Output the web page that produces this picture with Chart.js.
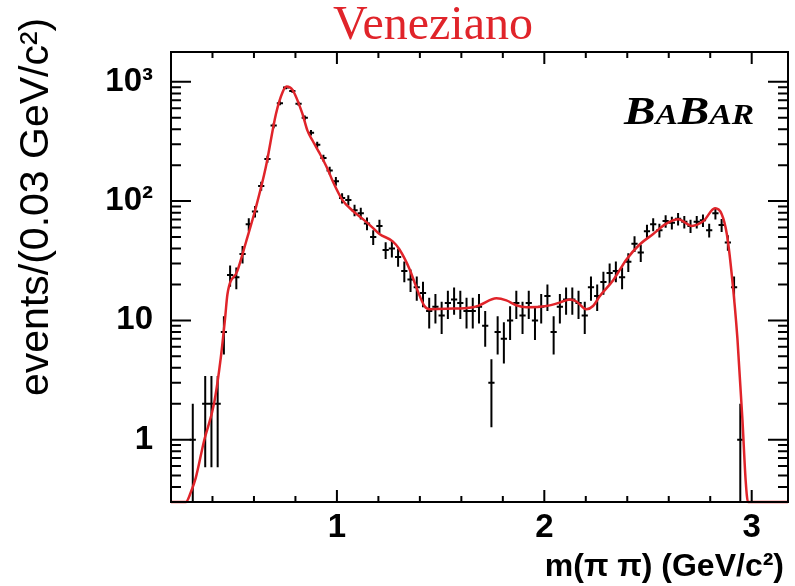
<!DOCTYPE html>
<html>
<head>
<meta charset="utf-8">
<script src="https://cdn.jsdelivr.net/npm/chart.js@4.4.1/dist/chart.umd.min.js"></script>
<style>
  html, body { margin: 0; padding: 0; background: #fff; }
  #wrap { width: 795px; height: 586px; }
</style>
</head>
<body>
<div id="wrap"><canvas id="massChart"></canvas></div>
<script>
// bin centres of m(pi pi) in GeV/c^2 (0.03 wide bins) and events in each bin
const binCenters = [0.305, 0.365, 0.395, 0.425, 0.455, 0.485, 0.515, 0.545, 0.575, 0.605,
  0.635, 0.665, 0.695, 0.725, 0.755, 0.785, 0.815, 0.845, 0.875, 0.905,
  0.935, 0.965, 0.995, 1.025, 1.055, 1.085, 1.115, 1.145, 1.175, 1.205,
  1.235, 1.265, 1.295, 1.325, 1.355, 1.385, 1.415, 1.445, 1.475, 1.505,
  1.535, 1.565, 1.595, 1.625, 1.655, 1.685, 1.715, 1.745, 1.775, 1.805,
  1.835, 1.865, 1.895, 1.925, 1.955, 1.985, 2.015, 2.045, 2.075, 2.105,
  2.135, 2.165, 2.195, 2.225, 2.255, 2.285, 2.315, 2.345, 2.375, 2.405,
  2.435, 2.465, 2.495, 2.525, 2.555, 2.585, 2.615, 2.645, 2.675, 2.705,
  2.735, 2.765, 2.795, 2.825, 2.855, 2.885, 2.915, 2.945];
const binCounts = [1, 2, 2, 2, 8, 24, 23, 36, 64, 82,
  134, 225, 430, 661, 895, 840, 655, 500, 375, 297,
  230, 181, 147, 106, 102, 84, 79, 65, 50, 62,
  39, 40, 34, 26, 22, 19, 17, 12, 13, 11,
  14, 15, 14, 12, 12, 13, 9, 3, 8, 7,
  10, 14, 11, 14, 10, 13, 16, 8, 13, 15,
  15, 14, 11, 19, 16, 21, 25, 26, 23, 31,
  44, 37, 56, 64, 57, 68, 66, 71, 67, 62,
  67, 69, 57, 79, 63, 45, 19, 1];

// Veneziano fit curve
const curveMass = [0.2, 0.272, 0.295, 0.319, 0.359, 0.408, 0.44, 0.461, 0.472, 0.52,
  0.561, 0.609, 0.657, 0.706, 0.738, 0.757, 0.786, 0.834, 0.858, 0.883,
  0.915, 0.955, 0.979, 1.025, 1.076, 1.12, 1.172, 1.205, 1.269, 1.301,
  1.35, 1.39, 1.422, 1.446, 1.527, 1.656, 1.688, 1.769, 1.817, 1.865,
  1.914, 2.01, 2.074, 2.123, 2.155, 2.203, 2.235, 2.268, 2.332, 2.397,
  2.461, 2.525, 2.59, 2.646, 2.711, 2.767, 2.823, 2.855, 2.88, 2.904,
  2.931, 2.955, 2.971, 2.982, 3.175];
const curveEvents = [0.3, 0.3, 0.36, 0.475, 0.97, 2.03, 4.85, 10.5, 16.5, 26,
  45, 88, 192, 538, 818, 913, 857, 538, 390, 321,
  255, 186, 148, 103, 83, 72, 60, 53, 46, 39.5,
  27, 17.6, 13.2, 12.4, 12.5, 12.9, 13.4, 15.3, 14.7, 13.4,
  12.9, 13.2, 14.1, 15, 14.4, 12.4, 13.2, 16, 21.7, 32.6,
  43.5, 53, 65, 70.6, 62, 68, 87, 78, 53, 24,
  7.1, 1.5, 0.45, 0.3, 0.3];

const xTickValues = [0.4, 0.6, 0.8, 1, 1.2, 1.4, 1.6, 1.8, 2, 2.2, 2.4, 2.6, 2.8, 3];
const xMajorTicks = [1, 2, 3];
const xMajorLabels = ['1', '2', '3'];
const yTickValues = [0.4, 0.5, 0.6, 0.7, 0.8, 0.9, 1, 2, 3, 4, 5, 6, 7, 8, 9,
  10, 20, 30, 40, 50, 60, 70, 80, 90, 100, 200, 300, 400, 500, 600, 700, 800, 900, 1000];
const yMajorTicks = [1, 10, 100, 1000];
const yMajorLabels = ['1', '10', '10\u00b2', '10\u00b3'];

const halfBin = 0.015;
var vertBars = [];
var horizBars = [];
for (var i = 0; i < binCenters.length; i++) {
  var n = binCounts[i];
  var err = Math.sqrt(n);
  vertBars.push({x: binCenters[i], y: Math.max(n - err, 0.01)}, {x: binCenters[i], y: n + err}, {x: binCenters[i], y: null});
  horizBars.push({x: binCenters[i] - halfBin, y: n}, {x: binCenters[i] + halfBin, y: n}, {x: binCenters[i], y: null});
}
var curvePoints = curveMass.map(function(m, i) { return {x: m, y: curveEvents[i]}; });

// ROOT style frame with inward ticks on all four sides
const frameTicks = {
  id: 'frameTicks',
  afterDatasetsDraw: function(chart) {
    var ctx = chart.ctx, a = chart.chartArea, x = chart.scales.x, y = chart.scales.y;
    ctx.save();
    ctx.strokeStyle = '#000';
    ctx.lineWidth = 2;
    ctx.strokeRect(a.left, a.top, a.right - a.left, a.bottom - a.top);
    ctx.beginPath();
    x.ticks.forEach(function(t) {
      var px = x.getPixelForValue(t.value);
      var len = xMajorTicks.indexOf(t.value) >= 0 ? 12 : 6;
      ctx.moveTo(px, a.bottom); ctx.lineTo(px, a.bottom - len);
      ctx.moveTo(px, a.top); ctx.lineTo(px, a.top + len);
    });
    y.ticks.forEach(function(t) {
      var py = y.getPixelForValue(t.value);
      var len = yMajorTicks.indexOf(t.value) >= 0 ? 20 : 10;
      ctx.moveTo(a.left, py); ctx.lineTo(a.left + len, py);
      ctx.moveTo(a.right, py); ctx.lineTo(a.right - len, py);
    });
    ctx.stroke();
    ctx.restore();
  }
};

const plotTexts = {
  id: 'plotTexts',
  afterDraw: function(chart) {
    var ctx = chart.ctx, a = chart.chartArea;
    ctx.save();
    ctx.fillStyle = '#e0242a';
    ctx.font = '48px "Liberation Serif"';
    ctx.textAlign = 'center';
    ctx.textBaseline = 'alphabetic';
    ctx.fillText('Veneziano', 433, 39);

    // BaBar logo with small capitals
    ctx.fillStyle = '#000';
    ctx.textAlign = 'left';
    var parts = [['B', 41], ['A', 29], ['B', 41], ['AR', 29]];
    var w = 0;
    parts.forEach(function(p) { ctx.font = 'italic bold ' + p[1] + 'px "Liberation Serif"'; w += ctx.measureText(p[0]).width; });
    ctx.translate(624, 124);
    ctx.scale(130 / w, 1);
    var cx = 0;
    parts.forEach(function(p) {
      ctx.font = 'italic bold ' + p[1] + 'px "Liberation Serif"';
      ctx.fillText(p[0], cx, 0);
      cx += ctx.measureText(p[0]).width;
    });
    ctx.setTransform(1, 0, 0, 1, 0, 0);

    ctx.font = '41px "Liberation Sans"';
    ctx.textAlign = 'left';
    ctx.textBaseline = 'middle';
    ctx.translate(37, 396);
    ctx.rotate(-Math.PI / 2);
    ctx.fillText('events/(0.03 GeV/c\u00b2)', 0, 0);
    ctx.setTransform(1, 0, 0, 1, 0, 0);

    ctx.font = 'bold 32px "Liberation Sans"';
    ctx.textAlign = 'right';
    ctx.fillText('m(\u03c0 \u03c0) (GeV/c\u00b2)', a.right - 4, 567);
    ctx.restore();
  }
};

var ctx = document.getElementById('massChart').getContext('2d');
var chart = new Chart(ctx, {
  type: 'line',
  data: {
    datasets: [{
      label: 'Veneziano fit',
      data: curvePoints,
      borderColor: '#e0242a',
      borderWidth: 2.5,
      pointRadius: 0,
      cubicInterpolationMode: 'monotone',
      clip: {left: 0, top: 0, right: 0, bottom: 2}
    }, {
      label: 'errors',
      data: vertBars,
      borderColor: '#000',
      borderWidth: 2,
      pointRadius: 0,
      spanGaps: false
    }, {
      label: 'bins',
      data: horizBars,
      borderColor: '#000',
      borderWidth: 2,
      pointRadius: 0,
      spanGaps: false
    }]
  },
  options: {
    responsive: true,
    maintainAspectRatio: false,
    animation: false,
    layout: {padding: {top: 52, right: 7, left: 0, bottom: 0}},
    plugins: {legend: {display: false}, tooltip: {enabled: false}},
    scales: {
      x: {
        type: 'linear', min: 0.2, max: 3.175,
        grid: {display: false}, border: {display: false},
        afterBuildTicks: function(scale) { scale.ticks = xTickValues.map(function(v) { return {value: v}; }); },
        afterFit: function(scale) { scale.height = 84; },
        ticks: {
          autoSkip: false, maxRotation: 0, padding: -2, color: '#000',
          font: {family: 'Liberation Sans', weight: 'bold', size: 33},
          callback: function(value) { var i = xMajorTicks.indexOf(value); return i >= 0 ? xMajorLabels[i] : ''; }
        }
      },
      y: {
        type: 'logarithmic', min: 0.3, max: 1780,
        grid: {display: false}, border: {display: false},
        afterBuildTicks: function(scale) { scale.ticks = yTickValues.map(function(v) { return {value: v}; }); },
        afterFit: function(scale) { scale.width = 171; },
        ticks: {
          autoSkip: false, padding: 10, color: '#000',
          font: {family: 'Liberation Sans', weight: 'bold', size: 33},
          callback: function(value) { var i = yMajorTicks.indexOf(value); return i >= 0 ? yMajorLabels[i] : ''; }
        }
      }
    }
  },
  plugins: [frameTicks, plotTexts]
});
</script>
</body>
</html>
